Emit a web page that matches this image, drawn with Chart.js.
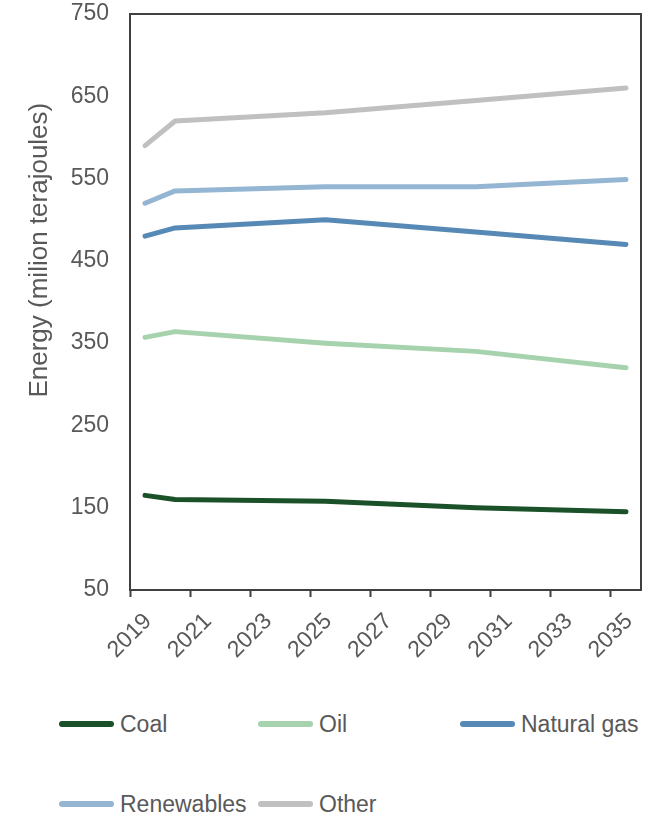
<!DOCTYPE html>
<html>
<head>
<meta charset="utf-8">
<script src="https://cdn.jsdelivr.net/npm/chart.js@4"></script>
<style>
  html, body { margin: 0; padding: 0; background: #fff; }
  #wrap { position: relative; width: 656px; height: 817px; font-family: "Liberation Sans", Arial, sans-serif; }
  #chartBox { position: absolute; left: 0; top: 0; width: 656px; height: 690px; }
  #legend { position: absolute; left: 59px; top: 700px; display: grid; grid-template-columns: 199px 202px 200px; row-gap: 0; }
  .item { display: flex; align-items: center; height: 48px; margin-bottom: 32px; color: #595959; font-size: 23px; white-space: nowrap; }
  .swatch { width: 55px; height: 6px; border-radius: 3px; margin-right: 6px; }
</style>
</head>
<body>
<div id="wrap">
  <div id="chartBox"><canvas id="chart"></canvas></div>
  <div id="legend"></div>
</div>
<script>
// Projected energy use by source, million terajoules
const years = [2019, 2020, 2025, 2030, 2035];
const coal = [165, 160, 158, 150, 145];
const oil = [357, 364, 350, 340, 320];
const naturalGas = [480, 490, 500, 485, 470];
const renewables = [520, 535, 540, 540, 549];
const other = [590, 620, 630, 645, 660];

const seriesNames = ['Coal', 'Oil', 'Natural gas', 'Renewables', 'Other'];
const seriesColors = ['#1b5128', '#a6d3ae', '#5689b5', '#94b6d2', '#c0c0c0'];
const seriesValues = [coal, oil, naturalGas, renewables, other];

const tickYears = [2019, 2021, 2023, 2025, 2027, 2029, 2031, 2033, 2035];
const yTicks = [50, 150, 250, 350, 450, 550, 650, 750];

const TEXT = '#595959';
const AXIS = '#404040';
const FONT = '"Liberation Sans", Arial, sans-serif';

const datasets = seriesNames.map((name, i) => ({
  label: name,
  data: years.map((yr, j) => ({ x: yr, y: seriesValues[i][j] })),
  borderColor: seriesColors[i],
  backgroundColor: seriesColors[i],
  borderWidth: 5,
  borderCapStyle: 'round',
  borderJoinStyle: 'round',
  pointRadius: 0,
  tension: 0,
  xAxisID: 'xData'
}));

// Plot frame and rotated axis title
const framePlugin = {
  id: 'frame',
  afterDraw(chart) {
    const { ctx, chartArea: a } = chart;
    ctx.save();
    ctx.strokeStyle = AXIS;
    ctx.lineWidth = 2;
    ctx.strokeRect(a.left, a.top, a.right - a.left, a.bottom - a.top);
    ctx.translate(40, a.top + (a.bottom - a.top) * 0.41);
    ctx.rotate(-Math.PI / 2);
    ctx.fillStyle = TEXT;
    ctx.font = '26px ' + FONT;
    ctx.textAlign = 'center';
    ctx.textBaseline = 'middle';
    ctx.fillText('Energy (milion terajoules)', 0, 0);
    ctx.restore();
  }
};

new Chart(document.getElementById('chart'), {
  type: 'line',
  data: { datasets },
  options: {
    responsive: true,
    maintainAspectRatio: false,
    animation: false,
    layout: { padding: { top: 14, right: 15, left: 0, bottom: 0 } },
    plugins: { legend: { display: false }, tooltip: { enabled: false } },
    scales: {
      // each year occupies one interval between ticks; values sit mid-interval
      xData: {
        type: 'linear',
        display: false,
        min: years[0] - 0.5,
        max: years[years.length - 1] + 0.5
      },
      x: {
        type: 'linear',
        position: 'bottom',
        min: tickYears[0],
        max: tickYears[tickYears.length - 1] + 1,
        afterBuildTicks: (axis) => { axis.ticks = tickYears.map(v => ({ value: v })); },
        afterFit: (axis) => {
          axis.height = 100;
          axis.paddingLeft = 0; axis.paddingRight = 0;
        },
        grid: { display: true, drawOnChartArea: false, drawTicks: true, tickLength: 7, tickWidth: 2, color: AXIS },
        border: { display: true, color: AXIS, width: 2 },
        ticks: {
          minRotation: 45, maxRotation: 45,
          autoSkip: false,
          color: TEXT,
          font: { family: FONT, size: 23 },
          padding: 11,
          labelOffset: 18,
          callback: (v) => String(v)
        }
      },
      y: {
        type: 'linear',
        min: 50, max: 750,
        afterBuildTicks: (axis) => { axis.ticks = yTicks.map(v => ({ value: v })); },
        afterFit: (axis) => {
          axis.width = 130;
          axis.paddingTop = 0; axis.paddingBottom = 0;
        },
        grid: { display: false },
        border: { display: true, color: AXIS, width: 2 },
        ticks: {
          color: TEXT,
          font: { family: FONT, size: 23 },
          padding: 13
        }
      }
    }
  },
  plugins: [framePlugin]
});

// Legend laid out in a three-column grid below the plot
const legend = document.getElementById('legend');
seriesNames.forEach((name, i) => {
  const item = document.createElement('div');
  item.className = 'item';
  const sw = document.createElement('span');
  sw.className = 'swatch';
  sw.style.background = seriesColors[i];
  const txt = document.createElement('span');
  txt.textContent = name;
  item.appendChild(sw);
  item.appendChild(txt);
  legend.appendChild(item);
});
</script>
</body>
</html>
